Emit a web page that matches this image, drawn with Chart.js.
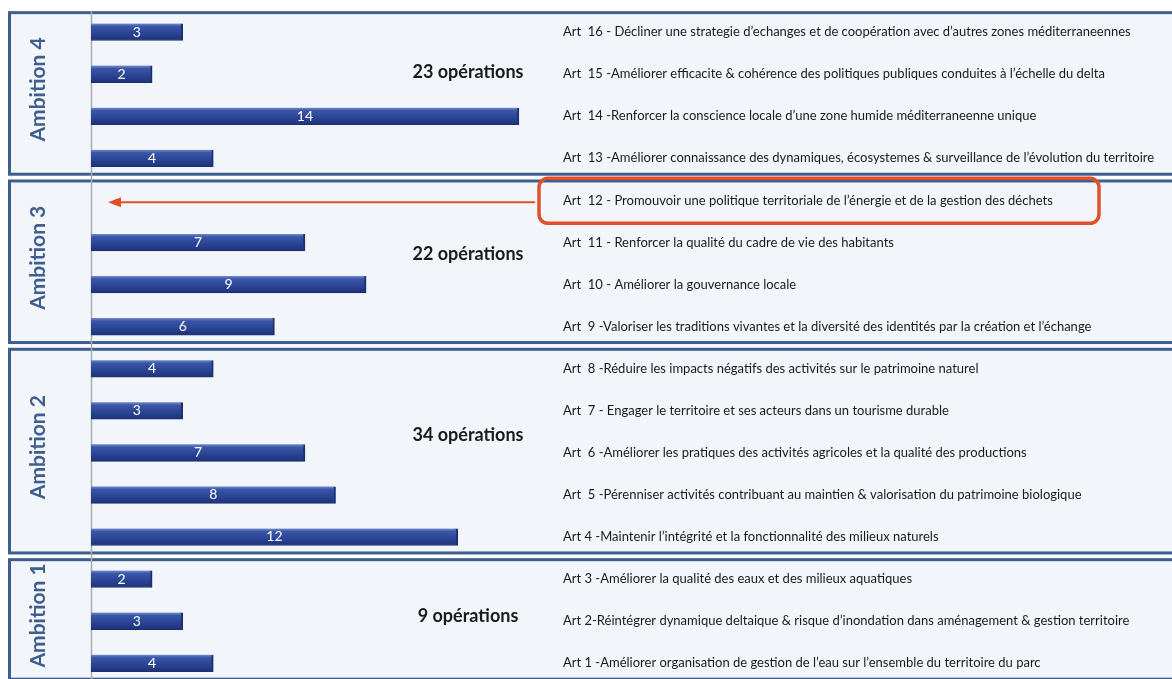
<!DOCTYPE html>
<html>
<head>
<meta charset="utf-8">
<script src="https://cdn.jsdelivr.net/npm/chart.js@4/dist/chart.umd.min.js"></script>
<style>
  html, body { margin: 0; padding: 0; background: #fff; }
  #wrap { width: 1172px; height: 679px; }
</style>
</head>
<body>
<div id="wrap"><canvas id="chart" width="1172" height="679"></canvas></div>
<script>
/* ---------- données ---------- */
const articles = [
  'Art  16 - Décliner une strategie d’echanges et de coopération avec d’autres zones méditerraneennes',
  'Art  15 -Améliorer efficacite & cohérence des politiques publiques conduites à l’échelle du delta',
  'Art  14 -Renforcer la conscience locale d’une zone humide méditerraneenne unique',
  'Art  13 -Améliorer connaissance des dynamiques, écosystemes & surveillance de l’évolution du territoire',
  'Art  12 - Promouvoir une politique territoriale de l’énergie et de la gestion des déchets',
  'Art  11 - Renforcer la qualité du cadre de vie des habitants',
  'Art  10 - Améliorer la gouvernance locale',
  'Art  9 -Valoriser les traditions vivantes et la diversité des identités par la création et l’échange',
  'Art  8 -Réduire les impacts négatifs des activités sur le patrimoine naturel',
  'Art  7 - Engager le territoire et ses acteurs dans un tourisme durable',
  'Art  6 -Améliorer les pratiques des activités agricoles et la qualité des productions',
  'Art  5 -Pérenniser activités contribuant au maintien & valorisation du patrimoine biologique',
  'Art 4 -Maintenir l’intégrité et la fonctionnalité des milieux naturels',
  'Art 3 -Améliorer la qualité des eaux et des milieux aquatiques',
  'Art 2-Réintégrer dynamique deltaique & risque d’inondation dans aménagement & gestion territoire',
  'Art 1 -Améliorer organisation de gestion de l’eau sur l’ensemble du territoire du parc'
];
const operations = [3, 2, 14, 4, 0, 7, 9, 6, 4, 3, 7, 8, 12, 2, 3, 4];

const ambitions  = ['Ambition 4', 'Ambition 3', 'Ambition 2', 'Ambition 1'];
const groupSizes = [4, 4, 5, 3];
const highlightIndex = 4;   // Art 12

/* ---------- mise en page ---------- */
const BOX_BORDER = '#3e5f8e';
const BOX_FILL   = '#f2f5fa';
const RED        = '#e14f2b';
const totalRowPos = [0.95, 5.27, 9.59, 13.89];   // position verticale des totaux (en lignes)
const TOTAL_X = 468;

/* ---------- plugin : cadres, totaux, flèche ---------- */
const decor = {
  id: 'decor',
  beforeDraw(chart) {
    const { ctx, scales: { x, y } } = chart;
    const step = y.getPixelForValue(1) - y.getPixelForValue(0);
    let start = 0;
    ctx.save();
    groupSizes.forEach((n, g) => {
      const top = y.getPixelForValue(start) - 0.46 * step;
      const bottom = y.getPixelForValue(start + n - 1) + 0.38 * step;
      ctx.fillStyle = BOX_FILL;
      ctx.fillRect(9.5, top, 1180, bottom - top);
      ctx.strokeStyle = BOX_BORDER;
      ctx.lineWidth = 3;
      ctx.strokeRect(9.5, top, 1180, bottom - top);

      // titre vertical
      ctx.save();
      ctx.translate(38, (top + bottom) / 2 - 4);
      ctx.rotate(-Math.PI / 2);
      ctx.fillStyle = BOX_BORDER;
      ctx.font = 'bold 21px Lato';
      ctx.textAlign = 'center';
      ctx.textBaseline = 'middle';
      ctx.fillText(ambitions[g], 0, 0);
      ctx.restore();

      start += n;
    });

    // axe vertical
    const x0 = Math.round(x.getPixelForValue(0)) + 0.5;
    ctx.strokeStyle = '#a9abb1';
    ctx.lineWidth = 1.5;
    ctx.beginPath();
    ctx.moveTo(x0, 11);
    ctx.lineTo(x0, 679);
    ctx.stroke();
    ctx.restore();
  },
  afterDatasetsDraw(chart) {
    const { ctx, scales: { y } } = chart;
    const meta = chart.getDatasetMeta(0);
    ctx.save();

    // valeurs dans les barres
    ctx.fillStyle = '#ffffff';
    ctx.font = '14px Lato';
    ctx.textAlign = 'center';
    ctx.textBaseline = 'middle';
    meta.data.forEach((bar, i) => {
      if (!operations[i]) return;
      ctx.fillText(String(operations[i]), (bar.x + bar.base) / 2, bar.y);
    });

    // totaux par ambition
    const step = y.getPixelForValue(1) - y.getPixelForValue(0);
    let start = 0;
    ctx.fillStyle = '#1a1a1a';
    ctx.font = 'bold 18px Lato';
    groupSizes.forEach((n, g) => {
      const sum = operations.slice(start, start + n).reduce((a, b) => a + b, 0);
      const ty = y.getPixelForValue(0) + totalRowPos[g] * step;
      ctx.fillText(sum + ' opérations', TOTAL_X, ty);
      start += n;
    });

    // encadré + flèche sur Art 12
    const hy = y.getPixelForValue(highlightIndex);
    ctx.strokeStyle = RED;
    ctx.lineWidth = 3.5;
    ctx.beginPath();
    ctx.roundRect(539, hy - 22, 560, 45, 9);
    ctx.stroke();

    const ay = hy + 2;
    ctx.lineWidth = 2;
    ctx.beginPath();
    ctx.moveTo(535, ay);
    ctx.lineTo(118, ay);
    ctx.stroke();
    ctx.fillStyle = RED;
    ctx.beginPath();
    ctx.moveTo(108, ay);
    ctx.lineTo(121, ay - 5);
    ctx.lineTo(121, ay + 5);
    ctx.closePath();
    ctx.fill();
    ctx.restore();
  }
};

/* ---------- graphique ---------- */
Chart.defaults.font.family = 'Lato';

function barFill(context) {
  const chart = context.chart;
  const y = chart.scales.y;
  const cy = y ? y.getPixelForValue(context.dataIndex) : NaN;
  if (!isFinite(cy)) return '#2c4696';
  const g = chart.ctx.createLinearGradient(0, cy - 8, 0, cy + 8);
  g.addColorStop(0, '#6a82c6');
  g.addColorStop(0.15, '#3a56a8');
  g.addColorStop(0.55, '#2c4696');
  g.addColorStop(1, '#1e337a');
  return g;
}

new Chart(document.getElementById('chart'), {
  type: 'bar',
  data: {
    labels: articles,
    datasets: [{
      data: operations,
      backgroundColor: barFill,
      borderColor: '#1c2f6e',
      borderWidth: { top: 0, bottom: 1, left: 0, right: 2 },
      borderSkipped: 'left',
      barThickness: 17,
      clip: false
    }]
  },
  options: {
    indexAxis: 'y',
    responsive: false,
    animation: false,
    layout: { padding: { left: 91, top: 32, bottom: 15, right: 0 } },
    plugins: { legend: { display: false }, tooltip: { enabled: false } },
    scales: {
      x: { display: false, min: 0, max: 15.18 },
      y: {
        position: 'right',
        offset: false,
        grid: { display: false, drawTicks: false },
        border: { display: false },
        ticks: { padding: 8, color: '#1a1a1a', font: { size: 13 }, autoSkip: false },
        afterFit(scale) { scale.width = 617; }
      }
    }
  },
  plugins: [decor]
});
</script>
</body>
</html>
